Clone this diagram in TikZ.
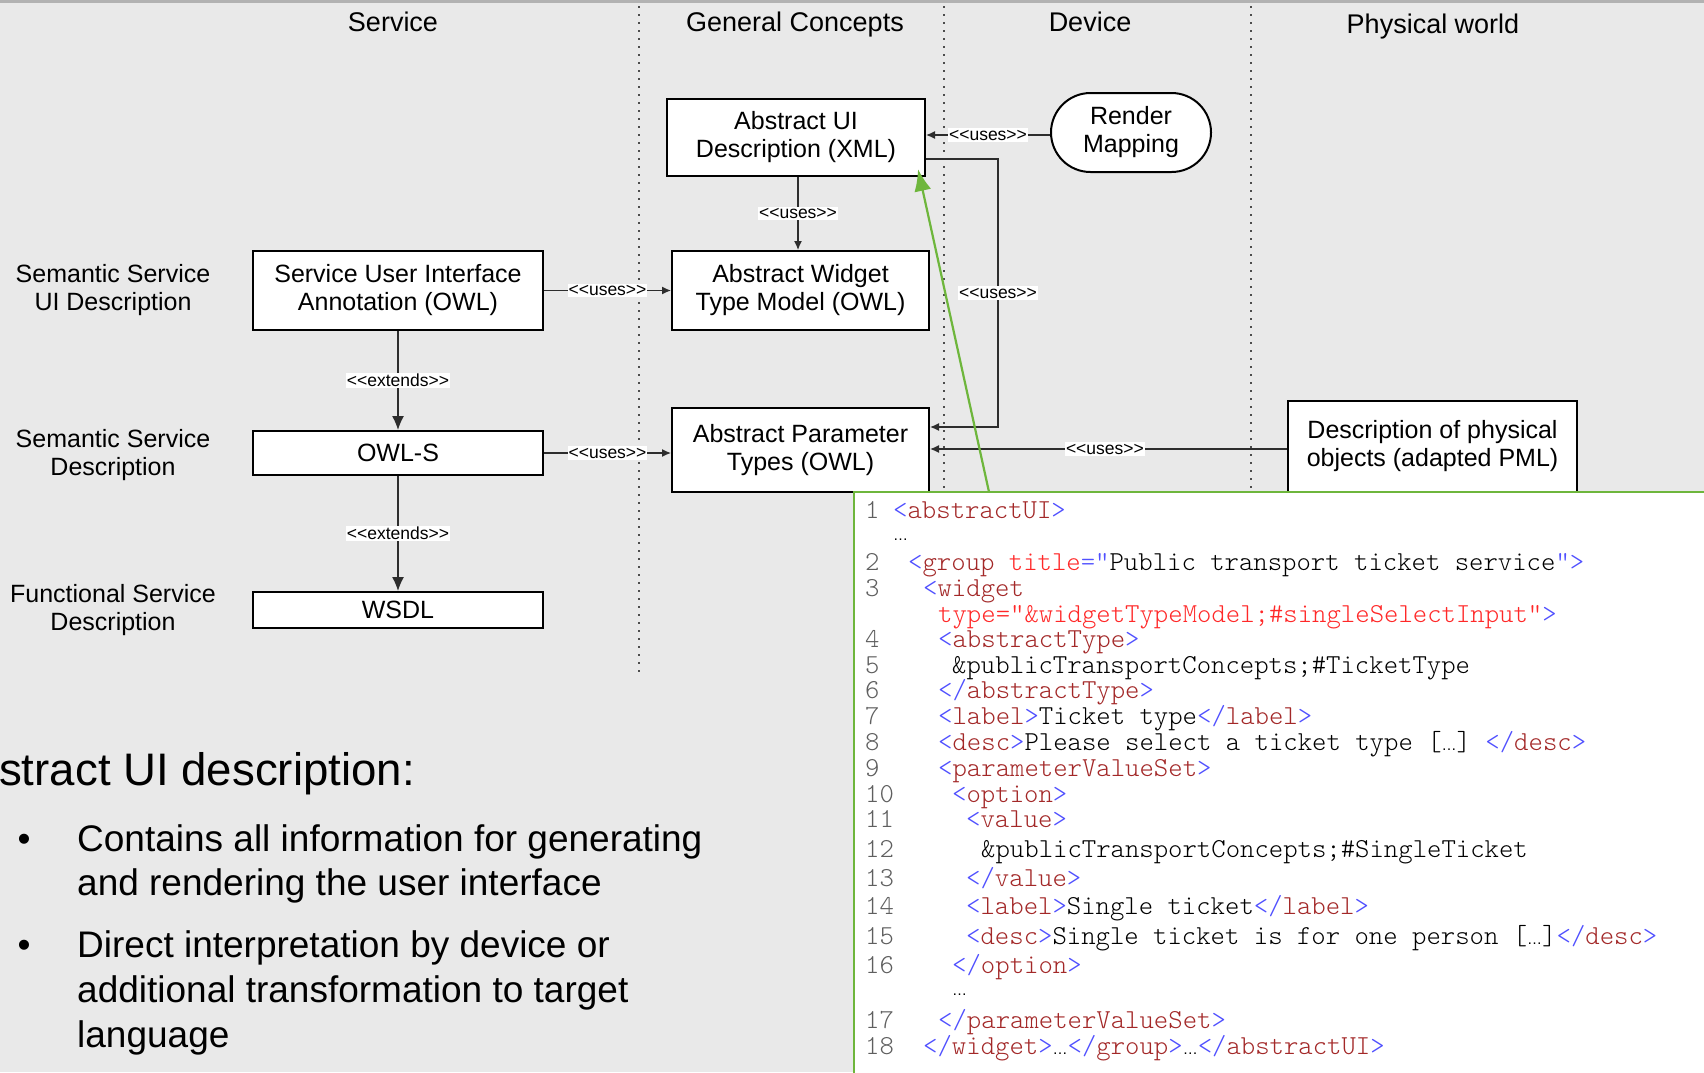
\documentclass[tikz,border=0pt]{standalone}
\usepackage{fontspec}
\setmainfont{Liberation Sans}[Ligatures=TeXOff]
\newfontfamily\codefont{lmmonolt10-regular.otf}[Ligatures=TeXOff]
\usetikzlibrary{arrows.meta,shapes.misc}

\definecolor{slidebg}{RGB}{233,233,233}
\definecolor{slideline}{RGB}{178,178,178}
\definecolor{connc}{RGB}{45,45,45}
\definecolor{codegreen}{RGB}{110,182,60}
\definecolor{xmlblue}{RGB}{80,80,255}
\definecolor{xmltag}{RGB}{163,40,40}
\definecolor{xmlattr}{RGB}{255,40,40}
\definecolor{numgray}{RGB}{95,95,95}

\newcommand\boxfont{\fontsize{25}{28}\selectfont}
\newcommand\headfont{\fontsize{27}{30}\selectfont}
\newcommand\stereofont{\fontsize{17.5}{19}\selectfont}
\newcommand\bigfont{\fontsize{45.6}{50}\selectfont}
\newcommand\bulletfont{\fontsize{37}{44.5}\selectfont}
\newcommand\xo[1]{\textcolor{xmlblue}{<}\textcolor{xmltag}{#1}\textcolor{xmlblue}{>}}
\newcommand\xc[1]{\textcolor{xmlblue}{</}\textcolor{xmltag}{#1}\textcolor{xmlblue}{>}}
\newcommand\xdots{{\rmfamily\fontsize{15}{15}\selectfont …}}

\tikzset{
  box/.style={draw, line width=2pt, fill=white, align=center, font=\boxfont, inner sep=2pt},
  roundbox/.style={box, rounded rectangle},
  lane/.style={anchor=base, font=\headfont, inner sep=0pt},
  layer/.style={align=center, font=\boxfont, inner sep=0pt},
  conn/.style={draw=connc, line width=1.3pt, -{Latex[length=9pt,width=8pt]}},
  extconn/.style={draw=connc, line width=1.3pt, -{Latex[length=14pt,width=12pt]}},
  stereo/.style={fill=white, font=\stereofont, inner xsep=1pt, inner ysep=1.5pt},
  sep/.style={draw=black!70, line width=1.6pt, dash pattern=on 1.6pt off 6.4pt},
  codeframe/.style={draw=codegreen, line width=2.5pt, fill=white},
  codeline/.style={anchor=base west, inner sep=0pt, font=\codefont\fontsize{27.4}{30}\selectfont},
  linenum/.style={codeline, text=numgray},
  bullettext/.style={anchor=base west, inner sep=0pt, font=\bulletfont}
}

\begin{document}
\begin{tikzpicture}[x=1pt,y=-1pt]
\useasboundingbox (0,0) rectangle (1704,1072);
\clip (0,0) rectangle (1704,1072);
\fill[slidebg] (0,0) rectangle (1704,1072);
\draw[slideline, line width=3pt] (0,1) -- (1704,1);

% lanes
\draw[sep] (639,6) -- (639,676);
\draw[sep] (944,6) -- (944,492);
\draw[sep] (1251,6) -- (1251,492);
\node[lane] (service) at (393,31) {Service};
\node[lane] (general) at (795,31) {General Concepts};
\node[lane] (device) at (1090,31) {Device};
\node[lane] (physical) at (1433,33) {Physical world};

% layers
\node[layer] (semui) at (113,290) {Semantic Service\\UI Description};
\node[layer] (semdesc) at (113,455) {Semantic Service\\Description};
\node[layer] (funcdesc) at (113,610) {Functional Service\\Description};

% boxes
\node[box, minimum width=258pt, minimum height=77pt] (aui) at (796,137.5) {Abstract UI\\Description (XML)};
\node[roundbox, minimum width=164pt, minimum height=79pt] (render) at (1131,132.5) {Render\\Mapping};
\node[box, minimum width=290pt, minimum height=79pt] (suia) at (398,290.5) {Service User Interface\\Annotation (OWL)};
\node[box, minimum width=257pt, minimum height=79pt] (awtm) at (800.5,290.5) {Abstract Widget\\Type Model (OWL)};
\node[box, minimum width=290pt, minimum height=44pt] (owls) at (398,453) {OWL-S};
\node[box, minimum width=257pt, minimum height=84pt] (apt) at (800.5,450) {Abstract Parameter\\Types (OWL)};
\node[box, minimum width=290pt, minimum height=36pt] (wsdl) at (398,610) {WSDL};
\node[box, minimum width=289pt, minimum height=91pt] (pml) at (1432.5,446.5) {Description of physical\\objects (adapted PML)};

% connectors
\coordinate (bendtop) at (998,159);
\coordinate (bendbot) at (998,427);
\draw[conn] (aui.south -| 798,0) -- node[stereo] {<<uses>>} (awtm.north -| 798,0);
\draw[conn] (suia.east) -- node[stereo] {<<uses>>} (awtm.west);
\draw[conn] (owls.east) -- node[stereo] {<<uses>>} (apt.west |- owls.east);
\draw[extconn] (suia.south) -- node[stereo] {<<extends>>} (owls.north);
\draw[extconn] (owls.south) -- node[stereo] {<<extends>>} (wsdl.north);
\draw[conn] (render.west |- 0,135) -- node[stereo] {<<uses>>} (aui.east |- 0,135);
\draw[conn] (aui.east |- bendtop) -- (bendtop) -- node[stereo] {<<uses>>} (bendbot) -- (apt.east |- bendbot);
\draw[conn] (pml.west |- 0,449) -- node[stereo, pos=0.51] {<<uses>>} (apt.east |- 0,449);

% bullet text
\node[anchor=base east, inner sep=0pt, font=\bigfont] (title) at (415,785) {stract UI description:};
\node[anchor=base, inner sep=0pt, font=\bulletfont] (b1) at (24,851) {•};
\node[anchor=base, inner sep=0pt, font=\bulletfont] (b2) at (24,957) {•};
\node[bullettext] (t1) at (77,851) {Contains all information for generating};
\node[bullettext] (t2) at (77,895) {and rendering the user interface};
\node[bullettext] (t3) at (77,957) {Direct interpretation by device or};
\node[bullettext] (t4) at (77,1002) {additional transformation to target};
\node[bullettext] (t5) at (77,1047) {language};

% code listing
\draw[codeframe] (854,492) rectangle (1712,1080);
\foreach \n/\y in {1/518,2/570,3/596,4/647,5/673,6/698,7/724,8/750,9/776,10/802,11/827,12/857,13/886,14/914,15/944,16/973,17/1028,18/1054}
  \node[linenum] (n\n) at (865,\y) {\n};
\node[codeline] (l1) at (893,518) {\xo{abstractUI}};
\node[codeline] (l1b) at (893,540) {\xdots};
\node[codeline] (l2) at (908,570) {\textcolor{xmlblue}{<}\textcolor{xmltag}{group} \textcolor{xmlattr}{title}\textcolor{xmlblue}{="}Public transport ticket service\textcolor{xmlblue}{">}};
\node[codeline] (l3) at (923,596) {\textcolor{xmlblue}{<}\textcolor{xmltag}{widget}};
\node[codeline] (l3b) at (938,622) {\textcolor{xmlattr}{type="\&widgetTypeModel;\#singleSelectInput"}\textcolor{xmlblue}{>}};
\node[codeline] (l4) at (938,647) {\xo{abstractType}};
\node[codeline] (l5) at (952,673) {\&publicTransportConcepts;\#TicketType};
\node[codeline] (l6) at (938,698) {\xc{abstractType}};
\node[codeline] (l7) at (938,724) {\xo{label}Ticket type\xc{label}};
\node[codeline] (l8) at (938,750) {\xo{desc}Please select a ticket type [\xdots] \xc{desc}};
\node[codeline] (l9) at (938,776) {\xo{parameterValueSet}};
\node[codeline] (l10) at (952,802) {\xo{option}};
\node[codeline] (l11) at (966,827) {\xo{value}};
\node[codeline] (l12) at (981,857) {\&publicTransportConcepts;\#SingleTicket};
\node[codeline] (l13) at (966,886) {\xc{value}};
\node[codeline] (l14) at (966,914) {\xo{label}Single ticket\xc{label}};
\node[codeline] (l15) at (966,944) {\xo{desc}Single ticket is for one person [\xdots]\xc{desc}};
\node[codeline] (l16) at (952,973) {\xc{option}};
\node[codeline] (l16b) at (952,995) {\xdots};
\node[codeline] (l17) at (938,1028) {\xc{parameterValueSet}};
\node[codeline] (l18) at (923,1054) {\xc{widget}\xdots\xc{group}\xdots\xc{abstractUI}};

% pointer into the listing
\coordinate (codetail) at (989,492);
\draw[codegreen, line width=2.2pt, -{Latex[length=22pt,width=17pt]}] (codetail) -- ([shift={(-8,-8)}]aui.south east);
\end{tikzpicture}
\end{document}
